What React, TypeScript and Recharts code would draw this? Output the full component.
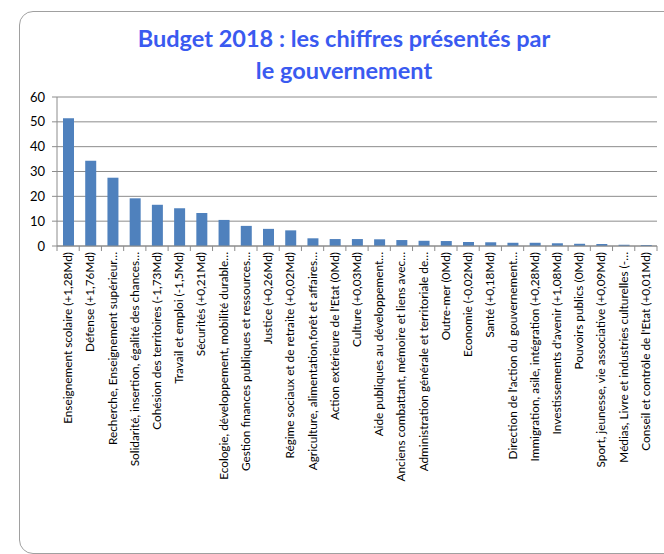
import { BarChart, Bar, XAxis, YAxis, CartesianGrid } from 'recharts';

const categories = [
  'Enseignement scolaire (+1,28Md)',
  'Défense (+1,76Md)',
  'Recherche, Enseignement supérieur…',
  'Solidarité, insertion, égalité des chances…',
  'Cohésion des territoires (-1,73Md)',
  'Travail et emploi (-1,5Md)',
  'Sécurités (+0,21Md)',
  'Ecologie, développement, mobilité durable…',
  'Gestion finances publiques et ressources…',
  'Justice (+0,26Md)',
  'Régime sociaux et de retraite (+0,02Md)',
  'Agriculture, alimentation,forêt et affaires…',
  "Action extérieure de l'Etat (0Md)",
  'Culture (+0,03Md)',
  'Aide publiques au développement…',
  'Anciens combattant, mémoire et liens avec…',
  'Administration générale et territoriale de…',
  'Outre-mer (0Md)',
  'Economie (-0,02Md)',
  'Santé (+0,18Md)',
  "Direction de l'action du gouvernement…",
  'Immigration, asile, intégration (+0,28Md)',
  "Investissements d'avenir (+1,08Md)",
  'Pouvoirs publics (0Md)',
  'Sport, jeunesse, vie associative (+0,09Md)',
  'Médias, Livre et industries culturelles (-…',
  "Conseil et contrôle de l'Etat (+0,01Md)",
];

const budget = [
  51.4, 34.3, 27.5, 19.2, 16.6, 15.2, 13.3, 10.5, 8.1, 6.9, 6.3, 3.1, 2.8, 2.8,
  2.7, 2.4, 2.1, 2.0, 1.6, 1.5, 1.3, 1.3, 1.1, 0.9, 0.8, 0.5, 0.4,
];

const yTicks = [0, 10, 20, 30, 40, 50, 60];

const data = categories.map((name, i) => ({ name, value: budget[i] }));

const PLOT_LEFT = 57;
const PLOT_RIGHT = 657;
const BAND = (PLOT_RIGHT - PLOT_LEFT) / categories.length;
const FONT = 'Lato, "Open Sans", sans-serif';

function CategoryTick(props: any) {
  const { x, y, payload, index } = props;
  const last = index === categories.length - 1;
  return (
    <g>
      <line x1={x - BAND / 2} x2={x - BAND / 2} y1={y} y2={y + 5} stroke="#8c8c8c" />
      {last && <line x1={x + BAND / 2} x2={x + BAND / 2} y1={y} y2={y + 5} stroke="#8c8c8c" />}
      <text
        transform={`translate(${x + 4},${y + 6}) rotate(-90)`}
        textAnchor="end"
        fontSize={11.8}
        fontFamily={FONT}
        fill="#000"
      >
        {payload.value}
      </text>
    </g>
  );
}

export default function App() {
  return (
    <div style={{ position: 'absolute', left: 0, top: 0, width: 664, height: 554, overflow: 'hidden', background: '#fff' }}>
      <div
        style={{
          position: 'absolute',
          left: 19,
          top: 11,
          width: 700,
          height: 541,
          border: '1px solid #a0a0a0',
          borderRadius: 14,
        }}
      />
      <div
        style={{
          position: 'absolute',
          left: 0,
          top: 22,
          width: 688,
          textAlign: 'center',
          fontFamily: FONT,
          fontWeight: 700,
          fontSize: 23.5,
          lineHeight: '32px',
          color: '#3a5af0',
        }}
      >
        Budget 2018 : les chiffres présentés par
        <br />
        le gouvernement
      </div>
      <div style={{ position: 'absolute', left: 0, top: 0 }}>
        <BarChart
          width={664}
          height={554}
          data={data}
          margin={{ top: 97, right: 664 - PLOT_RIGHT, left: 0, bottom: 0 }}
          barSize={11}
        >
          <CartesianGrid vertical={false} stroke="#8c8c8c" />
          <XAxis
            dataKey="name"
            interval={0}
            height={308}
            tickLine={false}
            tickSize={0}
            tickMargin={0}
            axisLine={{ stroke: '#8c8c8c' }}
            tick={<CategoryTick />}
          />
          <YAxis
            width={PLOT_LEFT}
            domain={[0, 60]}
            ticks={yTicks}
            interval={0}
            tickSize={5}
            tickMargin={7}
            axisLine={{ stroke: '#8c8c8c' }}
            tickLine={{ stroke: '#8c8c8c' }}
            tick={{ fontSize: 13, fill: '#000', fontFamily: FONT }}
          />
          <Bar dataKey="value" fill="#4f81bd" isAnimationActive={false} />
        </BarChart>
      </div>
    </div>
  );
}
